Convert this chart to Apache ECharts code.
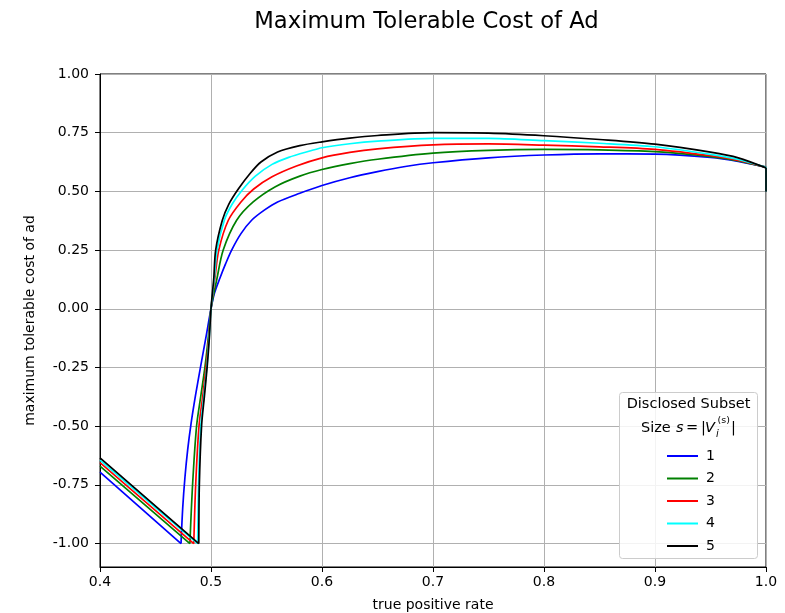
<!DOCTYPE html>
<html>
<head>
<meta charset="utf-8">
<script src="https://cdn.jsdelivr.net/npm/echarts@6/dist/echarts.min.js"></script>
<style>
html,body{margin:0;padding:0;background:#fff;}
#chart{width:785px;height:613px;}
</style>
</head>
<body>
<div id="chart"></div>
<script>
// ---- data ----
const seriesNames = ['1', '2', '3', '4', '5'];
const xTicks = [0.4, 0.5, 0.6, 0.7, 0.8, 0.9, 1.0];
const yTicks = [-1.0, -0.75, -0.5, -0.25, 0.0, 0.25, 0.5, 0.75, 1.0];

// straight falling segment on the left: y at tpr = 0.4 -> corner where y = -1
const leftStartY = [-0.696, -0.67, -0.655, -0.645, -0.635];
// value at tpr = 1.0 just before the final drop, and the value after the drop
const endY = [0.603, 0.603, 0.603, 0.603, 0.6];
const dropY = 0.5;

// rising curve for each series (starts at the corner where y = -1)
const s1X = [0.473, 0.4745, 0.4765, 0.479, 0.482, 0.486, 0.4905, 0.4955, 0.5, 0.503, 0.508, 0.513, 0.5186, 0.527, 0.5366, 0.548, 0.56, 0.58, 0.6, 0.625, 0.65, 0.675, 0.7, 0.75, 0.8, 0.85, 0.9, 0.95, 0.975, 1.0];
const s1Y = [-1.0, -0.85, -0.72, -0.6, -0.49, -0.37, -0.25, -0.12, 0.0, 0.065, 0.13, 0.19, 0.25, 0.32, 0.377, 0.42, 0.455, 0.492, 0.525, 0.558, 0.584, 0.606, 0.622, 0.643, 0.655, 0.66, 0.659, 0.645, 0.628, 0.603];

const s2X = [0.481, 0.4834, 0.487, 0.4907, 0.4945, 0.4975, 0.5, 0.5051, 0.511, 0.5231, 0.538, 0.558, 0.58, 0.6, 0.625, 0.65, 0.7, 0.75, 0.8, 0.85, 0.9, 0.95, 0.975, 1.0];
const s2Y = [-1.0, -0.75, -0.5, -0.375, -0.25, -0.125, 0.0, 0.122, 0.25, 0.377, 0.455, 0.52, 0.565, 0.593, 0.618, 0.637, 0.663, 0.675, 0.679, 0.677, 0.669, 0.648, 0.63, 0.603];

const s3X = [0.4845, 0.4862, 0.4892, 0.4925, 0.4955, 0.498, 0.5, 0.5035, 0.507, 0.5156, 0.527, 0.5385, 0.555, 0.577, 0.6, 0.625, 0.65, 0.7, 0.75, 0.8, 0.85, 0.9, 0.95, 0.975, 1.0];
const s3Y = [-1.0, -0.75, -0.5, -0.375, -0.25, -0.125, 0.0, 0.13, 0.25, 0.377, 0.455, 0.51, 0.562, 0.608, 0.643, 0.666, 0.681, 0.698, 0.702, 0.697, 0.69, 0.679, 0.652, 0.632, 0.603];

const s4X = [0.488, 0.4888, 0.4908, 0.4935, 0.4962, 0.4983, 0.5, 0.503, 0.5054, 0.512, 0.519, 0.528, 0.54, 0.555, 0.57, 0.589, 0.6, 0.625, 0.65, 0.7, 0.75, 0.8, 0.85, 0.9, 0.95, 0.975, 1.0];
const s4Y = [-1.0, -0.75, -0.5, -0.375, -0.25, -0.125, 0.0, 0.13, 0.25, 0.377, 0.445, 0.505, 0.565, 0.615, 0.645, 0.672, 0.686, 0.703, 0.714, 0.726, 0.726, 0.716, 0.705, 0.69, 0.658, 0.636, 0.603];

const s5X = [0.489, 0.4895, 0.4915, 0.494, 0.4965, 0.4985, 0.5, 0.5025, 0.5042, 0.5102, 0.516, 0.5246, 0.535, 0.545, 0.56, 0.58, 0.6, 0.625, 0.65, 0.7, 0.75, 0.8, 0.85, 0.9, 0.95, 0.975, 1.0];
const s5Y = [-1.0, -0.75, -0.5, -0.375, -0.25, -0.125, 0.0, 0.13, 0.25, 0.377, 0.445, 0.51, 0.575, 0.625, 0.668, 0.695, 0.711, 0.727, 0.738, 0.75, 0.748, 0.737, 0.721, 0.701, 0.667, 0.643, 0.6];

const allX = [s1X, s2X, s3X, s4X, s5X];
const allY = [s1Y, s2Y, s3Y, s4Y, s5Y];
const colors = ['#0000ff', '#008000', '#ff0000', '#00ffff', '#000000'];

// ---- chart ----
const FONT = 'DejaVu Sans';
const chart = echarts.init(document.getElementById('chart'), null, {renderer: 'canvas'});

const series = [];
seriesNames.forEach((name, i) => {
  const xs = allX[i], ys = allY[i];
  // straight parts: left falling segment, and the vertical drop at tpr = 1
  series.push({
    name: name, type: 'line', symbol: 'none', showSymbol: false, clip: true,
    connectNulls: false,
    data: [[0.4, leftStartY[i]], [xs[0], ys[0]], '-', [1.0, endY[i]], [1.0, dropY]],
    lineStyle: {color: colors[i], width: 1.7}, itemStyle: {color: colors[i]}, z: 2 + i
  });
  // the smooth rising curve
  series.push({
    name: name, type: 'line', symbol: 'none', showSymbol: false, clip: true,
    smooth: 0.3,
    data: xs.map((x, j) => [x, ys[j]]),
    lineStyle: {color: colors[i], width: 1.7}, itemStyle: {color: colors[i]}, z: 2 + i
  });
});

const T = (text, x, y, extra) => Object.assign({type: 'text', z: 101, x: x, y: y,
  style: Object.assign({text: text, fontFamily: FONT, fontSize: 14.5, fill: '#000', align: 'left', verticalAlign: 'middle'}, extra || {})});

const option = {
  animation: false,
  backgroundColor: '#ffffff',
  textStyle: {fontFamily: FONT},
  title: {
    text: 'Maximum Tolerable Cost of Ad',
    left: 421.5, top: 6, textAlign: 'center',
    textStyle: {fontFamily: FONT, fontSize: 22.7, fontWeight: 'normal', color: '#000'}
  },
  grid: {
    left: 100, right: 19, top: 74, bottom: 46,
    containLabel: false, outerBoundsMode: 'none',
    show: true, borderColor: '#000', borderWidth: 1, backgroundColor: 'transparent'
  },
  xAxis: {
    type: 'value', min: 0.4, max: 1.0,
    name: 'true positive rate', nameLocation: 'middle', nameGap: 31,
    nameTextStyle: {fontFamily: FONT, fontSize: 14, color: '#000'},
    axisLine: {show: true, onZero: false, lineStyle: {color: '#000', width: 1}},
    axisTick: {show: true, inside: false, length: 5, lineStyle: {color: '#000'}, customValues: xTicks},
    axisLabel: {customValues: xTicks, fontFamily: FONT, fontSize: 14, color: '#000', margin: 8,
      formatter: v => v.toFixed(1)},
    splitLine: {show: true, lineStyle: {color: '#b0b0b0', width: 1}}
  },
  yAxis: {
    type: 'value', min: -1.1, max: 1.0,
    name: 'maximum tolerable cost of ad', nameLocation: 'middle', nameGap: 63,
    nameTextStyle: {fontFamily: FONT, fontSize: 14, color: '#000'},
    axisLine: {show: true, onZero: false, lineStyle: {color: '#000', width: 1}},
    axisTick: {show: true, inside: false, length: 5, lineStyle: {color: '#000'}, customValues: yTicks},
    axisLabel: {customValues: yTicks, fontFamily: FONT, fontSize: 14, color: '#000', margin: 11,
      formatter: v => v.toFixed(2)},
    splitLine: {show: true, lineStyle: {color: '#b0b0b0', width: 1}}
  },
  legend: {
    data: seriesNames,
    orient: 'vertical',
    left: 662, top: 443,
    icon: 'rect',
    itemWidth: 31, itemHeight: 2, itemGap: 6.5,
    textStyle: {fontFamily: FONT, fontSize: 14, lineHeight: 16, color: '#000', padding: [0, 0, 0, 3]},
    z: 120
  },
  graphic: [
    {type: 'rect', z: 100, shape: {x: 619.5, y: 392.5, width: 138, height: 166, r: 3},
      style: {fill: 'rgba(255,255,255,0.85)', stroke: '#cccccc', lineWidth: 1}},
    T('Disclosed Subset', 688.5, 404, {align: 'center'}),
    T('Size', 641, 428),
    T('s', 676, 428, {fontStyle: 'italic'}),
    T('=', 686, 428),
    T('|', 701, 428),
    T('V', 705, 428, {fontStyle: 'italic'}),
    T('i', 716, 434, {fontStyle: 'italic', fontSize: 10}),
    T('(s)', 717.5, 421, {fontSize: 9.5}),
    T('|', 731, 428)
  ],
  series: series
};
chart.setOption(option);
</script>
</body>
</html>
